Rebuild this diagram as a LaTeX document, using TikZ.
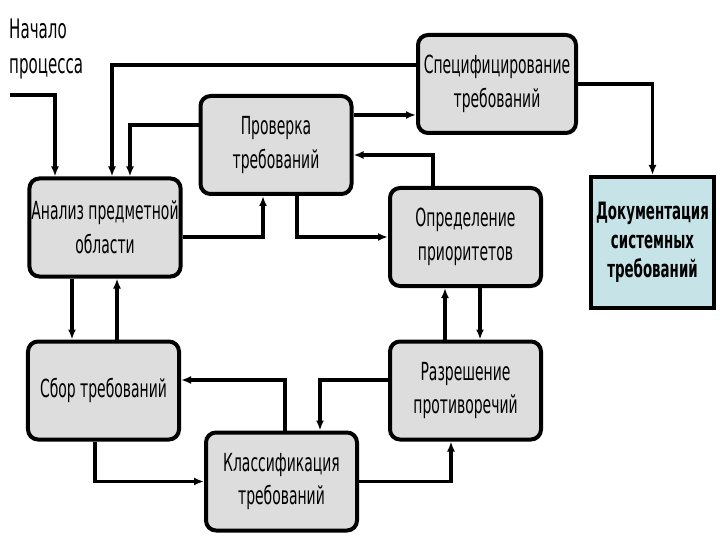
\documentclass[tikz,border=0pt]{standalone}
\usepackage{fontspec}
\setmainfont[FakeStretch=0.56]{DejaVu Sans}
\usetikzlibrary{arrows.meta,positioning}

\definecolor{boxgray}{HTML}{DDDDDD}
\definecolor{doccyan}{HTML}{C6E4E8}

\tikzset{
  stage/.style={draw, line width=4bp, rounded corners=10bp, fill=boxgray,
    minimum width=151bp, minimum height=98bp, align=center, inner sep=2bp},
  result/.style={draw, line width=4bp, fill=doccyan, font=\fontsize{24}{29}\selectfont\bfseries,
    minimum width=123bp, minimum height=131bp, align=center, inner sep=2bp},
  flow/.style={line width=3.2bp, -{Latex[length=10bp,width=8bp]}},
}

\begin{document}
\begin{tikzpicture}[x=1bp, y=-1bp, font=\fontsize{25}{34}\selectfont]
			\useasboundingbox (0,0) rectangle (720,540);

			\node[stage, minimum width=158bp] (spec) at (497,84) {Специфицирование\\требований};
			\node[stage] (prov) at (276,145) {Проверка\\требований};
			\node[stage] (anal) at (105,227.5) {Анализ предметной\\области};
			\node[stage] (opred) at (465.5,237) {Определение\\приоритетов};
			\node[result] (doc) at (652.5,242.5) {Документация\\системных\\требований};
			\node[stage] (sbor) at (103.5,390.5) {Сбор требований};
			\node[stage] (razr) at (465.5,390.5) {Разрешение\\противоречий};
			\node[stage] (klass) at (281.5,481.5) {Классификация\\требований};

			\node[anchor=north west, align=left, inner sep=0pt, font=\fontsize{27}{35}\selectfont] (start text) at (9,19) {Начало\\процесса};
			\coordinate (start) at (10,95);

			% upper part
			\draw[flow] (start) -| ([xshift=-50bp]anal.north);
			\draw[flow] ([yshift=19bp]spec.west) -| ([xshift=7bp]anal.north);
			\draw[flow] ([yshift=20bp]prov.west) -| ([xshift=25bp]anal.north);
			\draw[flow] ([yshift=-9.5bp]anal.east) -| ([xshift=-13bp]prov.south);
			\draw[flow] ([xshift=21bp]prov.south) |- (opred.west);
			\draw[flow] ([yshift=30bp]prov.east) -- ([yshift=30bp]prov.east -| spec.west);
			\draw[flow] ([xshift=-32.5bp]opred.north) |- ([yshift=-10bp]prov.east);
			\draw[flow] (spec.east) -| (doc.north);

			% left and right pairs
			\draw[flow] ([xshift=-33bp]anal.south) -- ([xshift=-33bp]anal.south |- sbor.north);
			\draw[flow] ([xshift=13.5bp]sbor.north) -- ([xshift=13.5bp]sbor.north |- anal.south);
			\draw[flow] ([xshift=14.5bp]opred.south) -- ([xshift=14.5bp]opred.south |- razr.north);
			\draw[flow, line width=4.2bp] ([xshift=-20.5bp]razr.north) -- ([xshift=-20.5bp]razr.north |- opred.south);

			% lower part
			\draw[flow] ([xshift=3.5bp]klass.north) |- ([yshift=10.5bp]sbor.east);
			\draw[flow] ([yshift=10.5bp]razr.west) -| ([xshift=38.5bp]klass.north);
			\draw[flow] ([xshift=-8.5bp]sbor.south) |- (klass.west);
			\draw[flow] (klass.east) -| ([xshift=-14.5bp]razr.south);
		\end{tikzpicture}
\end{document}
